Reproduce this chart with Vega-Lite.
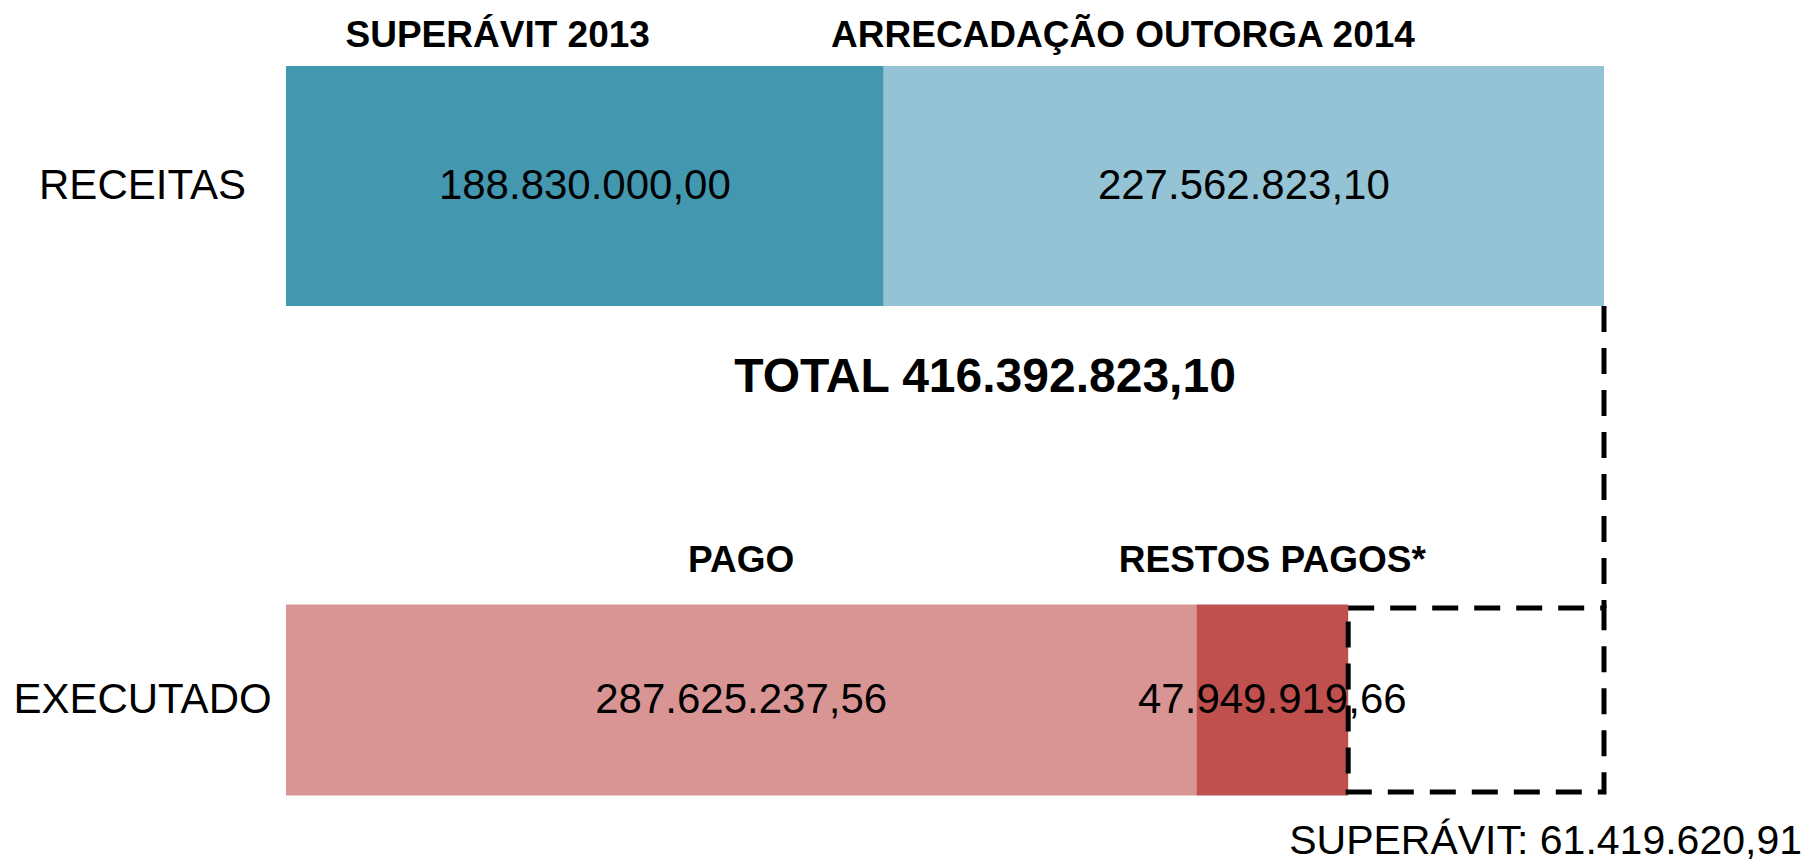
{
  "$schema": "https://vega.github.io/schema/vega-lite/v6.json",
  "width": 1318,
  "height": 844,
  "autosize": {"type": "none"},
  "padding": {"left": 286, "top": 21, "right": 208, "bottom": 0},
  "background": "white",
  "config": {
    "view": {"stroke": null},
    "font": "Liberation Sans",
    "axisY": {
      "title": null,
      "domain": false,
      "ticks": false,
      "tickSize": 0,
      "grid": false,
      "labelPadding": 144,
      "labelAlign": "center",
      "labelBaseline": "middle",
      "labelFontSize": 42,
      "labelFont": "Liberation Sans",
      "labelColor": "black",
      "labelLimit": 0
    }
  },
  "datasets": {
    "itens": [
      {"linha": "RECEITAS", "item": "SUPERÁVIT 2013", "valor": 188830000.00, "rotulo": "188.830.000,00", "ordem": 1},
      {"linha": "RECEITAS", "item": "ARRECADAÇÃO OUTORGA 2014", "valor": 227562823.10, "rotulo": "227.562.823,10", "ordem": 2},
      {"linha": "EXECUTADO", "item": "PAGO", "valor": 287625237.56, "rotulo": "287.625.237,56", "ordem": 1},
      {"linha": "EXECUTADO", "item": "RESTOS PAGOS*", "valor": 47949919.66, "rotulo": "47.949.919,66", "ordem": 2}
    ],
    "total": [
      {"linha": "RECEITAS", "rotulo": "TOTAL 416.392.823,10", "valor": 416392823.10}
    ],
    "superavit": [
      {"linha": "EXECUTADO", "rotulo": "SUPERÁVIT: 61.419.620,91", "valor": 61419620.91}
    ]
  },
  "encoding": {
    "y": {
      "field": "linha",
      "type": "nominal",
      "sort": ["RECEITAS", "EXECUTADO"],
      "title": null,
      "scale": {"domain": ["RECEITAS", "EXECUTADO"], "paddingInner": 0.5, "paddingOuter": 0.071}
    }
  },
  "layer": [
    {
      "data": {"name": "itens"},
      "transform": [{"filter": "datum.linha === 'RECEITAS'"}],
      "mark": {"type": "bar", "size": 240},
      "encoding": {
        "x": {"field": "valor", "type": "quantitative", "stack": "zero", "scale": {"domain": [0, 416392823.10], "nice": false, "zero": true}, "axis": null},
        "color": {"field": "item", "type": "nominal", "scale": {"domain": ["SUPERÁVIT 2013", "ARRECADAÇÃO OUTORGA 2014", "PAGO", "RESTOS PAGOS*"], "range": ["#4398B0", "#93C3D4", "#D99594", "#C0504D"]}, "legend": null},
        "order": {"field": "ordem", "type": "quantitative"}
      }
    },
    {
      "data": {"name": "total"},
      "mark": {"type": "rule", "strokeDash": [26, 16], "strokeWidth": 5, "color": "black", "yOffset": 120, "y2Offset": -92},
      "encoding": {
        "x": {"field": "valor", "type": "quantitative", "scale": {"domain": [0, 416392823.10], "nice": false, "zero": true}, "axis": null},
        "y": {"datum": "RECEITAS", "type": "nominal", "title": null},
        "y2": {"datum": "EXECUTADO"}
      }
    },
    {
      "data": {"name": "itens"},
      "transform": [{"filter": "datum.linha === 'EXECUTADO'"}],
      "mark": {"type": "bar", "size": 191},
      "encoding": {
        "x": {"field": "valor", "type": "quantitative", "stack": "zero", "scale": {"domain": [0, 416392823.10], "nice": false, "zero": true}, "axis": null},
        "color": {"field": "item", "type": "nominal", "legend": null},
        "order": {"field": "ordem", "type": "quantitative"}
      }
    },
    {
      "data": {"name": "itens"},
      "transform": [
        {"aggregate": [{"op": "sum", "field": "valor", "as": "soma"}], "groupby": ["linha"]},
        {"joinaggregate": [{"op": "max", "field": "soma", "as": "receita_total"}]},
        {"filter": "datum.linha === 'EXECUTADO'"},
        {"lookup": "linha", "from": {"data": {"name": "superavit"}, "key": "linha", "fields": ["rotulo"]}}
      ],
      "layer": [
        {
          "mark": {"type": "bar", "size": 184, "filled": false, "color": "black", "strokeWidth": 5, "strokeDash": [26, 16]},
          "encoding": {
            "x": {"field": "soma", "type": "quantitative", "scale": {"domain": [0, 416392823.10], "nice": false, "zero": true}, "axis": null},
            "x2": {"field": "receita_total"}
          }
        },
        {
          "mark": {"type": "text", "align": "right", "baseline": "alphabetic", "dx": 198, "dy": 154, "fontSize": 41, "color": "black"},
          "encoding": {
            "x": {"field": "receita_total", "type": "quantitative", "scale": {"domain": [0, 416392823.10], "nice": false, "zero": true}, "axis": null},
            "text": {"field": "rotulo"}
          }
        }
      ]
    },
    {
      "data": {"name": "itens"},
      "mark": {"type": "text", "baseline": "middle", "align": "center", "fontSize": 42, "color": "black"},
      "encoding": {
        "x": {"field": "valor", "type": "quantitative", "stack": "zero", "bandPosition": 0.5, "scale": {"domain": [0, 416392823.10], "nice": false, "zero": true}, "axis": null},
        "detail": {"field": "item"},
        "order": {"field": "ordem", "type": "quantitative"},
        "text": {"field": "rotulo"}
      }
    },
    {
      "data": {"name": "itens"},
      "transform": [
        {"filter": "datum.linha === 'RECEITAS'"},
        {"stack": "valor", "groupby": ["linha"], "sort": [{"field": "ordem", "order": "ascending"}], "as": ["ini", "fim"]}
      ],
      "layer": [
        {
          "transform": [{"filter": "datum.ordem === 1"}],
          "mark": {"type": "text", "baseline": "middle", "align": "center", "fontSize": 37, "fontWeight": "bold", "color": "black", "dy": -150, "dx": -386},
          "encoding": {
            "x": {"field": "fim", "type": "quantitative", "scale": {"domain": [0, 416392823.10], "nice": false, "zero": true}, "axis": null},
            "text": {"field": "item"}
          }
        },
        {
          "transform": [{"filter": "datum.ordem === 2"}],
          "mark": {"type": "text", "baseline": "middle", "align": "center", "fontSize": 37, "fontWeight": "bold", "color": "black", "dy": -150, "dx": -481},
          "encoding": {
            "x": {"field": "fim", "type": "quantitative", "scale": {"domain": [0, 416392823.10], "nice": false, "zero": true}, "axis": null},
            "text": {"field": "item"}
          }
        }
      ]
    },
    {
      "data": {"name": "itens"},
      "transform": [{"filter": "datum.linha === 'EXECUTADO'"}],
      "mark": {"type": "text", "baseline": "middle", "align": "center", "fontSize": 37, "fontWeight": "bold", "color": "black", "dy": -139},
      "encoding": {
        "x": {"field": "valor", "type": "quantitative", "stack": "zero", "bandPosition": 0.5, "scale": {"domain": [0, 416392823.10], "nice": false, "zero": true}, "axis": null},
        "detail": {"field": "item"},
        "order": {"field": "ordem", "type": "quantitative"},
        "text": {"field": "item"}
      }
    },
    {
      "data": {"name": "total"},
      "mark": {"type": "text", "baseline": "middle", "align": "center", "fontSize": 48, "fontWeight": "bold", "color": "black", "dy": 192, "dx": 40},
      "encoding": {
        "text": {"field": "rotulo"}
      }
    }
  ]
}
